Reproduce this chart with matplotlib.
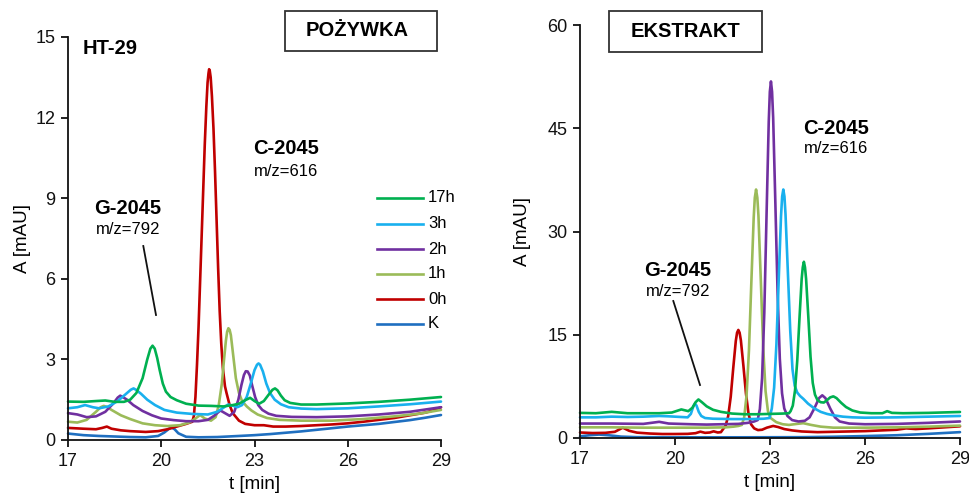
import matplotlib
matplotlib.use("Agg")
import matplotlib.pyplot as plt
from matplotlib.lines import Line2D
from matplotlib.patches import Rectangle

plt.rcParams['font.family'] = ['Liberation Sans', 'DejaVu Sans']

# ---------------- data: POŻYWKA (left) ----------------
series_labels = ["17h", "3h", "2h", "1h", "0h", "K"]
series_colors = ["#00b050", "#19b0ee", "#7030a0", "#9bbb59", "#c00000", "#1f6fc0"]

L_17h_t = [17.0, 17.5, 17.9, 18.2, 18.5, 18.8, 19.0, 19.2, 19.4, 19.55, 19.65, 19.72, 19.79, 19.87, 19.95,
           20.05, 20.15, 20.3, 20.5, 20.8, 21.2, 21.6, 22.0, 22.3, 22.5, 22.7, 22.86, 23.0, 23.15, 23.3,
           23.45, 23.58, 23.66, 23.74, 23.85, 23.97, 24.15, 24.5, 25.0, 26.0, 27.0, 28.0, 29.0]
L_17h_A = [1.43, 1.42, 1.45, 1.47, 1.42, 1.42, 1.5, 1.75, 2.3, 3.0, 3.4, 3.51, 3.4, 3.05, 2.6,
           2.1, 1.8, 1.6, 1.48, 1.35, 1.28, 1.27, 1.25, 1.3, 1.35, 1.48, 1.57, 1.45, 1.35, 1.45,
           1.68, 1.87, 1.92, 1.85, 1.65, 1.48, 1.38, 1.32, 1.32, 1.36, 1.42, 1.5, 1.6]

L_3h_t = [17.0, 17.3, 17.55, 17.8, 18.0, 18.3, 18.6, 18.85, 19.02, 19.11, 19.2, 19.35, 19.55, 19.8, 20.1,
          20.5, 21.0, 21.5, 21.8, 22.0, 22.15, 22.3, 22.45, 22.6, 22.75, 22.88, 23.0, 23.08, 23.13, 23.18,
          23.27, 23.38, 23.5, 23.65, 23.85, 24.1, 24.5, 25.0, 26.0, 27.0, 28.0, 29.0]
L_3h_A = [1.18, 1.22, 1.3, 1.22, 1.18, 1.25, 1.45, 1.7, 1.87, 1.92, 1.86, 1.72, 1.5, 1.3, 1.12,
          1.02, 0.97, 0.95, 1.05, 1.2, 1.32, 1.28, 1.22, 1.3, 1.6, 2.1, 2.6, 2.8, 2.85, 2.8,
          2.55, 2.1, 1.75, 1.5, 1.33, 1.22, 1.17, 1.15, 1.18, 1.25, 1.33, 1.43]

L_2h_t = [17.0, 17.3, 17.6, 17.9, 18.2, 18.45, 18.6, 18.68, 18.76, 18.9, 19.1, 19.4, 19.7, 20.0, 20.4,
          20.8, 21.2, 21.5, 21.7, 21.9, 22.05, 22.2, 22.35, 22.48, 22.58, 22.66, 22.72, 22.78, 22.85, 22.92,
          23.02, 23.12, 23.25, 23.45, 23.7, 24.2, 25.0, 26.0, 27.0, 28.0, 29.0]
L_2h_A = [1.0, 0.95, 0.85, 0.88, 1.05, 1.35, 1.58, 1.65, 1.6, 1.5, 1.3, 1.08, 0.92, 0.8, 0.74,
          0.7, 0.7, 0.75, 0.9, 1.1, 1.0, 0.9, 1.05, 1.5, 2.05, 2.42, 2.56, 2.55, 2.4, 2.05,
          1.6, 1.3, 1.12, 0.98, 0.9, 0.86, 0.85, 0.88, 0.95, 1.05, 1.22]

L_1h_t = [17.0, 17.3, 17.6, 17.9, 18.05, 18.15, 18.25, 18.4, 18.7, 19.0, 19.4, 19.8, 20.2, 20.6, 20.9,
          21.1, 21.25, 21.4, 21.6, 21.75, 21.85, 21.95, 22.02, 22.08, 22.12, 22.16, 22.2, 22.24, 22.32, 22.4,
          22.5, 22.6, 22.75, 22.9, 23.1, 23.4, 23.8, 24.5, 25.5, 26.5, 27.5, 28.3, 29.0]
L_1h_A = [0.68, 0.65, 0.75, 1.05, 1.22, 1.27, 1.23, 1.12, 0.92, 0.78, 0.62, 0.55, 0.52, 0.55, 0.65,
          0.8, 0.93, 0.8, 0.72, 0.85, 1.3, 2.1, 3.0, 3.7, 4.03, 4.16, 4.1, 3.9, 3.1, 2.3,
          1.75, 1.45, 1.25, 1.1, 0.95, 0.82, 0.75, 0.72, 0.72, 0.78, 0.88, 0.98, 1.12]

L_0h_t = [17.0, 17.5, 17.9, 18.1, 18.25, 18.4, 18.7, 19.0, 19.5, 19.9, 20.2, 20.5, 20.8, 21.0, 21.05, 21.1,
          21.15, 21.2, 21.25, 21.3, 21.35, 21.4, 21.45, 21.49, 21.52, 21.54, 21.56, 21.59, 21.63, 21.68,
          21.73, 21.78, 21.83, 21.88, 21.93, 21.98, 22.05, 22.1, 22.2, 22.3, 22.5, 22.7, 23.0, 23.3, 23.6,
          24.0, 24.5, 25.0, 25.5, 26.0, 26.5, 27.0, 27.5, 28.0, 28.5, 28.8, 29.0]
L_0h_A = [0.45, 0.42, 0.4, 0.45, 0.5, 0.42, 0.36, 0.33, 0.3, 0.33, 0.4, 0.5, 0.6, 0.68, 0.9, 1.6,
          2.8, 4.2, 5.9, 7.6, 9.3, 11.0, 12.4, 13.3, 13.65, 13.8, 13.75, 13.5, 12.8, 11.6,
          10.0, 8.2, 6.4, 4.8, 3.6, 2.7, 2.0, 1.75, 1.3, 1.0, 0.72, 0.6, 0.55, 0.55, 0.5,
          0.5, 0.52, 0.55, 0.58, 0.62, 0.68, 0.75, 0.82, 0.92, 1.02, 1.12, 1.22]

L_K_t = [17.0, 17.5, 18.0, 18.5, 19.0, 19.5, 19.9, 20.1, 20.25, 20.34, 20.43, 20.55, 20.8, 21.2, 21.8,
         22.5, 23.0, 23.5, 24.0, 24.5, 25.0, 25.5, 26.0, 26.5, 27.0, 27.5, 28.0, 28.5, 29.0]
L_K_A = [0.24, 0.18, 0.15, 0.13, 0.11, 0.1, 0.15, 0.28, 0.42, 0.46, 0.4, 0.25, 0.12, 0.1, 0.11,
         0.15, 0.18, 0.22, 0.27, 0.32, 0.38, 0.44, 0.5, 0.55, 0.6, 0.67, 0.74, 0.83, 0.93]

# ---------------- data: EKSTRAKT (right) ----------------
R_17h_t = [17.0, 17.5, 18.0, 18.5, 19.0, 19.5, 19.9, 20.2, 20.42, 20.55, 20.65, 20.74, 20.85, 21.0, 21.2,
           21.45, 21.8, 22.2, 22.6, 23.0, 23.4, 23.6, 23.65, 23.72, 23.79, 23.86, 23.93, 24.0, 24.035,
           24.07, 24.105, 24.14, 24.21, 24.28, 24.35, 24.42, 24.5, 24.6, 24.7, 24.8, 24.9, 25.0, 25.1,
           25.25, 25.4, 25.6, 25.85, 26.2, 26.55, 26.7, 26.85, 27.2, 28.0, 29.0]
R_17h_A = [3.65, 3.6, 3.8, 3.6, 3.6, 3.6, 3.7, 4.15, 3.9, 4.4, 5.2, 5.6, 5.2, 4.6, 4.1,
           3.8, 3.55, 3.45, 3.45, 3.5, 3.55, 3.6, 3.9, 4.7, 6.9, 11.2, 17.3, 23.1, 24.8,
           25.6, 24.8, 23.1, 17.6, 11.8, 8.0, 6.3, 5.5, 5.2, 5.15, 5.5, 5.9, 6.05, 5.8,
           5.1, 4.5, 4.0, 3.7, 3.6, 3.6, 3.9, 3.65, 3.6, 3.65, 3.78]

R_3h_t = [17.0, 17.5, 18.0, 18.5, 19.0, 19.5, 19.8, 20.2, 20.4, 20.5, 20.58, 20.63, 20.68, 20.75, 20.83,
          20.95, 21.2, 21.8, 22.4, 22.8, 22.985, 23.0575, 23.13, 23.2025, 23.275, 23.3475, 23.384, 23.42,
          23.456, 23.49, 23.565, 23.64, 23.71, 23.78, 23.86, 23.95, 24.05, 24.2, 24.4, 24.6, 24.8, 25.0,
          25.3, 25.6, 26.0, 27.0, 28.0, 29.0]
R_3h_A = [3.0, 3.0, 3.1, 3.05, 3.1, 3.2, 3.15, 3.05, 3.0, 3.5, 4.6, 5.0, 4.7, 3.8, 3.2,
          2.9, 2.8, 2.75, 2.75, 2.8, 2.9, 4.3, 7.3, 13.6, 23.0, 32.2, 35.1, 36.1,
          35.1, 32.5, 24.0, 15.5, 10.0, 7.6, 6.6, 6.1, 5.7, 5.0, 4.3, 3.8, 3.5, 3.3,
          3.1, 3.0, 2.95, 3.0, 3.1, 3.2]

R_2h_t = [17.0, 18.0, 19.0, 19.5, 19.8, 20.5, 21.0, 21.5, 22.0, 22.3, 22.5, 22.61, 22.68, 22.75, 22.82,
          22.89, 22.96, 22.995, 23.03, 23.065, 23.1, 23.17, 23.24, 23.31, 23.38, 23.45, 23.55, 23.7, 23.9,
          24.1, 24.25, 24.4, 24.55, 24.65, 24.75, 24.9, 25.05, 25.2, 25.5, 26.0, 27.0, 28.0, 29.0]
R_2h_A = [2.1, 2.1, 2.05, 2.35, 2.1, 2.0, 1.95, 2.0, 2.05, 2.2, 2.4, 2.6, 4.2, 8.7, 18.2,
          32.2, 45.9, 50.3, 51.8, 50.3, 46.5, 34.0, 21.0, 11.5, 6.5, 4.3, 3.2, 2.6, 2.4,
          2.5, 3.0, 4.3, 5.8, 6.2, 5.8, 4.3, 3.0, 2.4, 2.1, 2.0, 2.05, 2.2, 2.4]

R_1h_t = [17.0, 18.0, 19.0, 20.0, 21.0, 21.6, 21.85, 22.0, 22.11, 22.185, 22.26, 22.335, 22.41, 22.485,
          22.52, 22.56, 22.60, 22.635, 22.71, 22.785, 22.86, 22.935, 23.02, 23.2, 23.4, 23.6, 23.85, 24.05,
          24.3, 24.6, 25.0, 26.0, 27.0, 28.0, 29.0]
R_1h_A = [1.55, 1.55, 1.5, 1.5, 1.5, 1.55, 1.65, 1.75, 1.9, 3.0, 6.2, 12.7, 22.5, 32.0,
          34.9, 36.1, 34.9, 32.3, 22.9, 13.2, 6.8, 3.9, 2.9, 2.3, 2.0, 1.9, 2.05, 2.15,
          1.9, 1.65, 1.5, 1.5, 1.55, 1.65, 1.8]

R_0h_t = [17.0, 17.4, 17.8, 18.1, 18.35, 18.55, 18.8, 19.2, 19.6, 20.0, 20.4, 20.65, 20.8, 20.95, 21.1,
          21.22, 21.35, 21.45, 21.52, 21.6, 21.68, 21.76, 21.84, 21.92, 21.96, 22.0, 22.04, 22.08, 22.16,
          22.24, 22.32, 22.4, 22.5, 22.62, 22.75, 22.9, 23.1, 23.25, 23.45, 23.7, 24.0, 24.5, 25.0, 25.5,
          26.0, 26.5, 27.0, 27.3, 27.6, 28.0, 28.5, 29.0]
R_0h_A = [0.8, 0.72, 0.75, 0.9, 1.5, 1.05, 0.78, 0.65, 0.58, 0.58, 0.6, 0.7, 0.92, 0.75, 0.8,
          0.97, 0.8, 0.85, 1.3, 1.8, 3.2, 6.0, 10.2, 14.1, 15.3, 15.7, 15.3, 14.2, 10.5,
          6.5, 3.6, 2.0, 1.4, 1.15, 1.2, 1.5, 1.75, 1.6, 1.3, 1.1, 0.95, 0.85, 0.9, 0.95,
          1.0, 1.1, 1.2, 1.4, 1.3, 1.4, 1.55, 1.7]

R_K_t = [17.0, 17.3, 17.6, 17.9, 18.3, 18.8, 20.0, 22.0, 24.0, 25.0, 26.0, 27.0, 28.0, 29.0]
R_K_A = [0.25, 0.4, 0.5, 0.4, 0.2, 0.12, 0.1, 0.1, 0.12, 0.18, 0.28, 0.4, 0.6, 0.85]

x_ticks = [17, 20, 23, 26, 29]
left_y_ticks = [0, 3, 6, 9, 12, 15]
right_y_ticks = [0, 15, 30, 45, 60]

left_series = [(L_17h_t, L_17h_A), (L_3h_t, L_3h_A), (L_2h_t, L_2h_A),
               (L_1h_t, L_1h_A), (L_0h_t, L_0h_A), (L_K_t, L_K_A)]
right_series = [(R_17h_t, R_17h_A), (R_3h_t, R_3h_A), (R_2h_t, R_2h_A),
                (R_1h_t, R_1h_A), (R_0h_t, R_0h_A), (R_K_t, R_K_A)]

W, H = 970, 495
fig = plt.figure(figsize=(W / 100, H / 100), dpi=100)


def fx(px):
    return px / W


def fy(py):
    return 1 - py / H


def make_axes(l, t, r, b, yticks, ylabelpad):
    ax = fig.add_axes([fx(l), fy(b), fx(r - l), (b - t) / H])
    ax.set_xlim(17, 29)
    ax.set_ylim(yticks[0], yticks[-1])
    ax.set_xticks(x_ticks)
    ax.set_yticks(yticks)
    for s in ("top", "right"):
        ax.spines[s].set_visible(False)
    for s in ("left", "bottom"):
        ax.spines[s].set_linewidth(1.3)
        ax.spines[s].set_color("#111111")
    ax.tick_params(direction="out", length=5, width=1.3, labelsize=13, pad=4, colors="#111111")
    ax.set_xlabel("t [min]", fontsize=13.5, labelpad=5)
    ax.set_ylabel("A [mAU]", fontsize=13.5, labelpad=ylabelpad)
    return ax


axL = make_axes(68, 37, 441, 440, left_y_ticks, 3)
axR = make_axes(580, 25, 960, 438, right_y_ticks, 12)

# draw K first, 17h last so order of overlap matches
for ax, series in ((axL, left_series), (axR, right_series)):
    for (t, a), c in list(zip(series, series_colors))[::-1]:
        ax.plot(t, a, color=c, lw=1.9, solid_joinstyle="round", solid_capstyle="round", clip_on=False)


def label_box(l, t, r, b, text, tx):
    fig.add_artist(Rectangle((fx(l), fy(b)), fx(r - l), (b - t) / H, transform=fig.transFigure,
                             fill=False, edgecolor="#333333", lw=1.3))
    fig.text(fx(tx), fy((t + b) / 2), text, ha="center", va="center",
             fontsize=14.5, fontweight="bold")


label_box(285, 11, 437, 51, "POŻYWKA", 357)
label_box(609, 11, 762, 52, "EKSTRAKT", 685)

fig.text(fx(83), fy(48), "HT-29", ha="left", va="center", fontsize=14.5, fontweight="bold")


def compound(cx, py1, py2, name, mz):
    fig.text(fx(cx), fy(py1), name, ha="center", va="center", fontsize=14.5, fontweight="bold")
    fig.text(fx(cx), fy(py2), mz, ha="center", va="center", fontsize=12)


compound(286, 149, 171, "C-2045", "m/z=616")
compound(128, 208, 230, "G-2045", "m/z=792")
compound(836, 128, 149, "C-2045", "m/z=616")
compound(678, 270, 291, "G-2045", "m/z=792")

fig.add_artist(Line2D([fx(143.3), fx(156)], [fy(246), fy(315)], transform=fig.transFigure,
                      color="#111111", lw=1.3))
fig.add_artist(Line2D([fx(673.3), fx(700)], [fy(301), fy(385)], transform=fig.transFigure,
                      color="#111111", lw=1.3))

leg_rows = [198, 224, 249, 274, 299, 324]
for lab, c, py in zip(series_labels, series_colors, leg_rows):
    fig.add_artist(Line2D([fx(377), fx(423)], [fy(py), fy(py)], transform=fig.transFigure,
                          color=c, lw=1.9))
    fig.text(fx(428), fy(py), lab, ha="left", va="center", fontsize=12)

fig.savefig("out.png", dpi=100)
